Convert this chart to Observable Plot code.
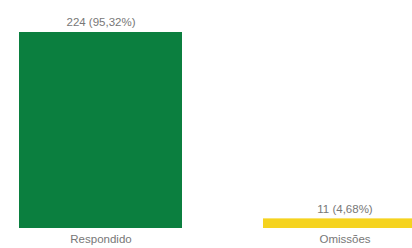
<!DOCTYPE html>
<html><head><meta charset="utf-8">
<script src="https://cdn.jsdelivr.net/npm/d3@7"></script>
<script src="https://cdn.jsdelivr.net/npm/@observablehq/plot@0.6"></script>
<style>body{margin:0;background:#fff;} svg{overflow:hidden}</style>
</head><body><div id="chart"></div>
<script>
const categories = ["Respondido", "Omissões"];
const values = [224, 11];
const labels = ["224 (95,32%)", "11 (4,68%)"];
const colors = ["#0b7f3f", "#f5d31f"];

const data = categories.map((c, i) => ({cat: c, v: values[i], label: labels[i], color: colors[i]}));

const chart = Plot.plot({
  width: 412, height: 248,
  marginTop: 32, marginBottom: 20, marginLeft: 0, marginRight: 0,
  style: {fontFamily: "Liberation Sans, Arial, sans-serif", background: "#fff"},
  x: {domain: categories, range: [0, 445], paddingInner: 0.33, paddingOuter: 0.0735, label: null},
  y: {domain: [0, 224], axis: null},
  marks: [
    Plot.barY(data, {x: "cat", y: "v", fill: "color"}),
    Plot.text(data, {x: "cat", y: "v", text: "label", dy: -10, fontSize: 11.5, fill: "#777"}),
    Plot.axisX({tickSize: 0, tickPadding: 6, fontSize: 11.5, color: "#777", label: null})
  ]
});
document.getElementById("chart").appendChild(chart);
</script></body></html>
